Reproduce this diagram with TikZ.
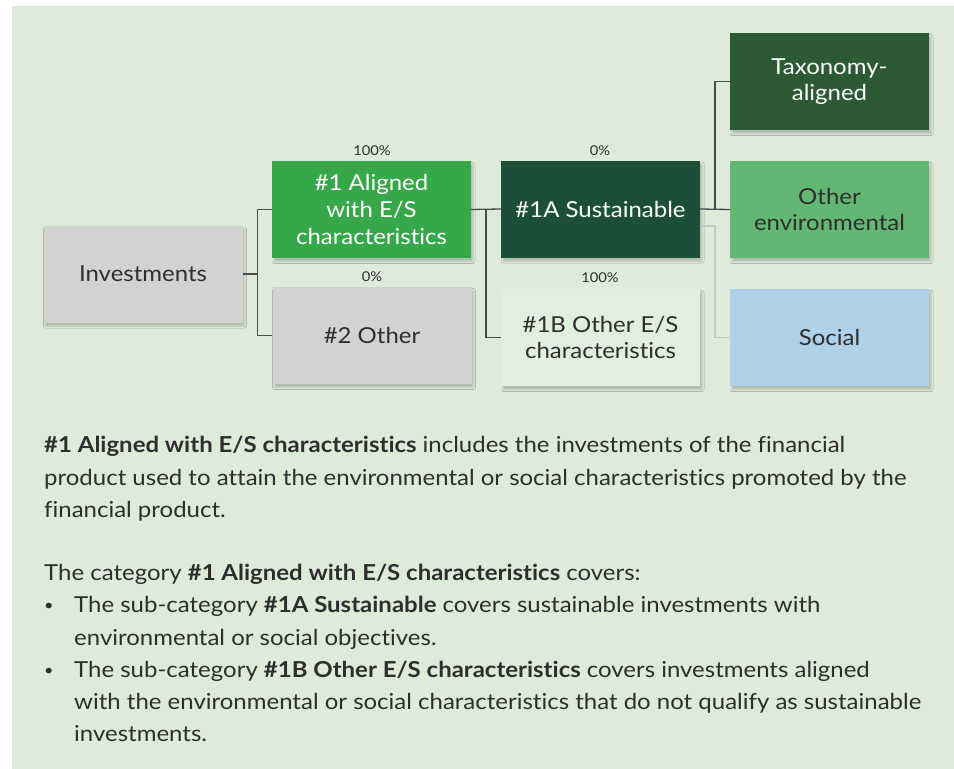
\documentclass[tikz,border=0pt]{standalone}
\usepackage{fontspec}
\setmainfont{Lato}[FakeStretch=1.09, Ligatures=NoCommon]
\usetikzlibrary{calc,shadows.blur}

\definecolor{panelbg}{HTML}{DEEBDA}
\definecolor{greybox}{HTML}{D1D3D1}
\definecolor{brightgreen}{HTML}{36A849}
\definecolor{darkgreen}{HTML}{1B4F38}
\definecolor{taxgreen}{HTML}{2B5A35}
\definecolor{midgreen}{HTML}{62B873}
\definecolor{palebox}{HTML}{E3EFDE}
\definecolor{socialblue}{HTML}{AED0E8}
\definecolor{linedark}{HTML}{4A4A4A}
\definecolor{linelight}{HTML}{C4C8C4}
\definecolor{textdark}{HTML}{2E2E2E}

\tikzset{
  box/.style={rectangle, minimum width=199pt, minimum height=97pt, inner sep=2pt,
    align=center, font=\fontsize{22}{26.7}\selectfont,
    blur shadow={shadow xshift=2pt, shadow yshift=-3.5pt, shadow blur radius=2pt, shadow opacity=20}},
  pct/.style={font=\fontsize{13.5}{15}\selectfont, text=textdark, inner sep=0pt},
  conn/.style={draw=linedark, line width=1.3pt},
  connlight/.style={draw=linelight, line width=1.3pt},
  bodyline/.style={anchor=base west, inner sep=0pt, text=textdark, font=\fontsize{22}{26}\selectfont},
  bulletmark/.style={anchor=base west, inner sep=0pt, text=textdark, font=\fontsize{15}{18}\selectfont},
}

\begin{document}
\begin{tikzpicture}[x=1pt, y=-1pt]
  \useasboundingbox (0,0) rectangle (954,769);
  \fill[white] (0,0) rectangle (954,769);
  \fill[panelbg] (12,6) rectangle (954,769);

  % category boxes
  \node[box, fill=greybox, text=textdark] (inv) at (143,274) {Investments};
  \node[box, fill=brightgreen, text=white] (al) at (371.5,209.5) {\#1 Aligned\\with E/S\\characteristics};
  \node[box, fill=greybox, text=textdark] (oth) at (372,335.5) {\#2 Other};
  \node[box, fill=darkgreen, text=white] (sus) at (600.5,209) {\#1A Sustainable};
  \node[box, fill=palebox, text=textdark] (ob) at (600.5,337.5) {\#1B Other E/S\\characteristics};
  \node[box, fill=taxgreen, text=white] (tax) at (829.5,81.5) {Taxonomy-\\aligned};
  \node[box, fill=midgreen, text=textdark] (oe) at (829.5,209.5) {Other\\environmental};
  \node[box, fill=socialblue, text=textdark] (soc) at (829.5,337.5) {Social};

  % shares
  \node[pct] (pal) at (372,151) {100\%};
  \node[pct] (poth) at (372,277) {0\%};
  \node[pct] (psus) at (600,151) {0\%};
  \node[pct] (pob) at (600,278) {100\%};

  % connectors
  \draw[conn] (inv.east) -- ++(15,0) coordinate (j1);
  \draw[conn] (al.west) -| (j1) |- (oth.west);
  \coordinate (j2) at ($(al.east)!0.5!(sus.west)$);
  \draw[conn] (al.east) -- (sus.west);
  \draw[conn] (j2) |- (ob.west);
  \coordinate (j3) at ($(sus.east)!0.5!(oe.west)$);
  \draw[conn] (sus.east) -- (oe.west);
  \draw[conn] (j3) |- (tax.west);
  \draw[connlight] ([yshift=-17pt]sus.east) -| ([yshift=-17pt]j3) |- (soc.west);

  % explanatory text
  \node[bodyline] (t1) at (44,452) {\textbf{\#1 Aligned with E/S characteristics} includes the investments of the financial};
  \node[bodyline] (t2) at (44,485) {product used to attain the environmental or social characteristics promoted by the};
  \node[bodyline] (t3) at (44,517) {financial product.};
  \node[bodyline] (t4) at (44,580) {The category \textbf{\#1 Aligned with E/S characteristics} covers:};
  \node[bulletmark] (b1) at (44,610) {\textbullet};
  \node[bodyline] (t5) at (74,612) {The sub-category \textbf{\#1A Sustainable} covers sustainable investments with};
  \node[bodyline] (t6) at (74,645) {environmental or social objectives.};
  \node[bulletmark] (b2) at (44,675) {\textbullet};
  \node[bodyline] (t7) at (74,677) {The sub-category \textbf{\#1B Other E/S characteristics} covers investments aligned};
  \node[bodyline] (t8) at (74,709) {with the environmental or social characteristics that do not qualify as sustainable};
  \node[bodyline] (t9) at (74,741) {investments.};
\end{tikzpicture}
\end{document}
